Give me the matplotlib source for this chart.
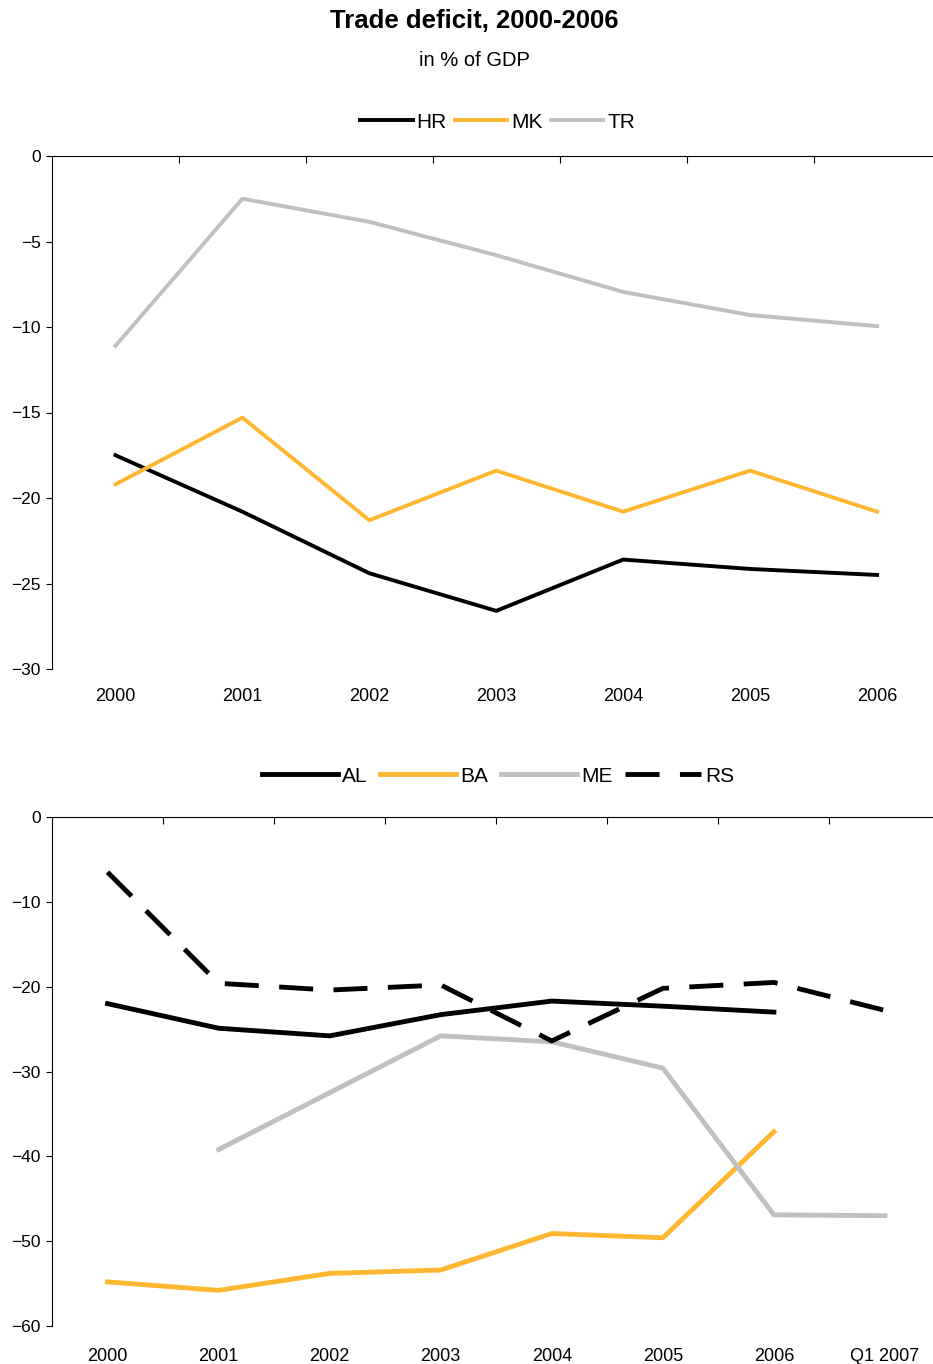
import matplotlib.pyplot as plt
import numpy as np

plt.rcParams['font.family'] = ['Liberation Sans', 'DejaVu Sans']

# top panel
years_top = ['2000', '2001', '2002', '2003', '2004', '2005', '2006']
hr = [-17.5, -20.8, -24.4, -26.6, -23.6, -24.15, -24.5]
mk = [-19.2, -15.3, -21.3, -18.4, -20.8, -18.4, -20.8]
tr = [-11.1, -2.5, -3.85, -5.8, -7.95, -9.3, -9.95]

# bottom panel
years_bot = ['2000', '2001', '2002', '2003', '2004', '2005', '2006', 'Q1 2007']
al = [-22.0, -24.9, -25.8, -23.3, -21.7, -22.3, -23.0, np.nan]
ba = [-54.8, -55.8, -53.8, -53.4, -49.1, -49.6, -37.1, np.nan]
me = [np.nan, -39.2, -32.5, -25.8, -26.5, -29.6, -46.9, -47.0]
rs = [-6.5, -19.6, -20.4, -19.8, -26.4, -20.2, -19.5, -22.8]

orange = '#FFB732'
grey = '#C0C0C0'

fig = plt.figure(figsize=(9.33, 13.64), dpi=100)

fig.text(474 / 933, 1 - 21 / 1364, 'Trade deficit, 2000-2006', ha='center', va='center',
         fontsize=18.5, fontweight='bold')
fig.text(474 / 933, 1 - 61 / 1364, 'in % of GDP', ha='center', va='center', fontsize=14.5)


def style_axes(ax, n, yticks, pad):
    for s in ['bottom', 'right']:
        ax.spines[s].set_visible(False)
    for s in ['top', 'left']:
        ax.spines[s].set_linewidth(0.8)
    ax.set_xlim(-0.5, n - 0.5)
    ax.set_ylim(yticks[0], 0)
    ax.set_yticks(yticks)
    ax.set_xticks(range(n))
    ax.set_xticks(np.arange(0.5, n - 0.5, 1), minor=True)
    ax.tick_params(axis='x', which='major', length=0, pad=pad, labelsize=13)
    ax.tick_params(axis='x', which='minor', top=True, bottom=False, direction='in', length=5, width=0.8)
    ax.tick_params(axis='y', which='major', length=4, width=0.8, labelsize=12.5, pad=4)


ax1 = fig.add_axes([52 / 933, 1 - 669 / 1364, 888.5 / 933, 513 / 1364])
x1 = np.arange(len(years_top))
ax1.plot(x1, hr, color='black', lw=2.8, label='HR')
ax1.plot(x1, mk, color=orange, lw=2.8, label='MK')
ax1.plot(x1, tr, color=grey, lw=2.8, label='TR')
style_axes(ax1, len(years_top), [-30, -25, -20, -15, -10, -5, 0], 14)
ax1.set_xticklabels(years_top)
ax1.legend(loc='center', bbox_to_anchor=(498 / 933, 1 - 122 / 1364), bbox_transform=fig.transFigure,
           ncol=3, frameon=False, fontsize=15, handlelength=2.5, handletextpad=0.2,
           columnspacing=0.4)

ax2 = fig.add_axes([52 / 933, 1 - 1326 / 1364, 888.5 / 933, 509 / 1364])
x2 = np.arange(len(years_bot))
ax2.plot(x2, al, color='black', lw=3.5, label='AL')
ax2.plot(x2, ba, color=orange, lw=3.5, label='BA')
ax2.plot(x2, me, color=grey, lw=3.5, label='ME')
ax2.plot(x2, rs, color='black', lw=3.5, dashes=(7, 4.2), label='RS')
style_axes(ax2, len(years_bot), [-60, -50, -40, -30, -20, -10, 0], 16)
ax2.set_xticklabels(years_bot, family=['Liberation Sans Narrow', 'Liberation Sans'], fontsize=13)
ax2.legend(loc='center', bbox_to_anchor=(498 / 933, 1 - 776 / 1364), bbox_transform=fig.transFigure,
           ncol=4, frameon=False, fontsize=15, handlelength=3.65, handletextpad=0.2,
           columnspacing=0.6)

fig.savefig('out.png', dpi=100)
